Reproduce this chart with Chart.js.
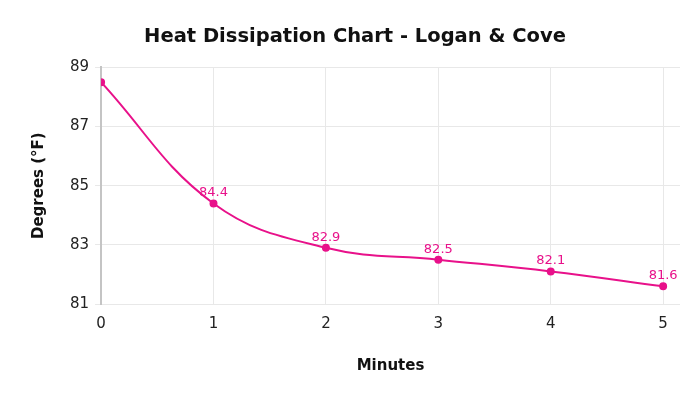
<!DOCTYPE html>
<html>
<head>
<meta charset="utf-8">
<script src="https://cdn.jsdelivr.net/npm/chart.js@4/dist/chart.umd.min.js"></script>
<style>
  html, body { margin:0; padding:0; background:#fff; }
  #wrap { width:700px; height:394px; position:relative; }
</style>
</head>
<body>
<div id="wrap"><canvas id="chart"></canvas></div>
<script>
// données
const minutes = [0, 1, 2, 3, 4, 5];
const degrees = [88.5, 84.4, 82.9, 82.5, 82.1, 81.6];
const pointLabels = [null, '84.4', '82.9', '82.5', '82.1', '81.6'];
const yTicks = [81, 83, 85, 87, 89];
const xTicks = [0, 1, 2, 3, 4, 5];

const PINK = '#E8118A';
const FONT = "'DejaVu Sans', Verdana, sans-serif";

// petites étiquettes au-dessus des points
const labelPlugin = {
  id: 'pointLabels',
  afterDatasetsDraw(chart) {
    const ctx = chart.ctx;
    const meta = chart.getDatasetMeta(0);
    ctx.save();
    ctx.fillStyle = PINK;
    ctx.font = '13px ' + FONT;
    ctx.textAlign = 'center';
    ctx.textBaseline = 'bottom';
    meta.data.forEach((pt, i) => {
      if (!pointLabels[i]) return;
      ctx.fillText(pointLabels[i], pt.x, pt.y - 4);
    });
    ctx.restore();
  }
};

new Chart(document.getElementById('chart'), {
  type: 'line',
  data: {
    datasets: [{
      data: minutes.map((m, i) => ({ x: m, y: degrees[i] })),
      borderColor: PINK,
      backgroundColor: PINK,
      borderWidth: 2,
      pointRadius: 3,
      pointHoverRadius: 3,
      tension: 0.4,
      fill: false,
    }]
  },
  options: {
    responsive: true, maintainAspectRatio: false,
    animation: false,
    layout: { padding: { left: 30, right: 20, top: 25, bottom: 19 } },
    plugins: {
      legend: { display: false },
      tooltip: { enabled: false },
      title: {
        display: true,
        text: 'Heat Dissipation Chart - Logan & Cove',
        color: '#111',
        font: { family: FONT, size: 19.5, weight: 'bold' },
        padding: { top: 0, bottom: 19 },
      },
    },
    scales: {
      x: {
        type: 'linear',
        min: 0, max: 5.15,
        afterBuildTicks: s => { s.ticks = xTicks.map(v => ({ value: v })); },
        grid: { color: '#e8e8e8', drawTicks: false },
        border: { display: false },
        ticks: { color: '#222', font: { family: FONT, size: 15 }, padding: 11 },
        title: {
          display: true, text: 'Minutes', color: '#111',
          font: { family: FONT, size: 15, weight: 'bold' },
          padding: { top: 13, bottom: 0 },
        },
      },
      y: {
        min: 81, max: 89,
        afterBuildTicks: s => { s.ticks = yTicks.map(v => ({ value: v })); },
        grid: { color: '#e8e8e8', tickLength: 6 },
        border: { color: '#c4c4c4', width: 2 },
        ticks: { color: '#222', font: { family: FONT, size: 15 }, padding: 6 },
        title: {
          display: true, text: 'Degrees (°F)', color: '#111',
          font: { family: FONT, size: 15, weight: 'bold' },
          padding: { top: 0, bottom: 16 },
        },
      },
    },
  },
  plugins: [labelPlugin],
});
</script>
</body>
</html>
